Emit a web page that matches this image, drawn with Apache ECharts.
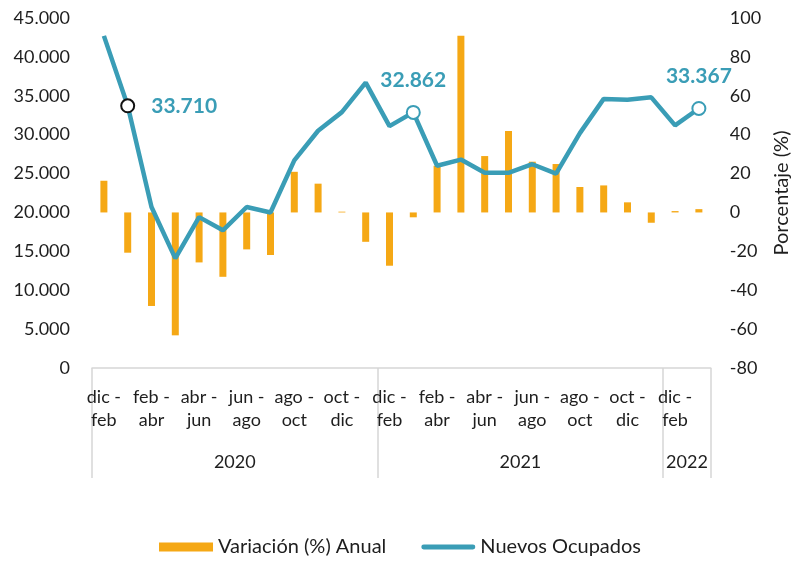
<!DOCTYPE html>
<html>
<head>
<meta charset="utf-8">
<script src="https://cdn.jsdelivr.net/npm/echarts@6/dist/echarts.min.js"></script>
<style>
  html, body { margin: 0; padding: 0; background: #fff; }
  #chart { width: 800px; height: 566px; }
</style>
</head>
<body>
<div id="chart"></div>
<script>
// periodos moviles (trimestres)
const periodos = [
  'dic - feb', 'ene - mar', 'feb - abr', 'mar - may', 'abr - jun', 'may - jul',
  'jun - ago', 'jul - sep', 'ago - oct', 'sep - nov', 'oct - dic', 'nov - ene',
  'dic - feb', 'ene - mar', 'feb - abr', 'mar - may', 'abr - jun', 'may - jul',
  'jun - ago', 'jul - sep', 'ago - oct', 'sep - nov', 'oct - dic', 'nov - ene',
  'dic - feb', 'ene - mar'
]
const anios = ['2020', '2021', '2022']
const aniosInicio = [0, 12, 24, 26]   // limites de cada año (indice de periodo)

const variacionAnual = [
  16.3, -20.7, -48.1, -63.2, -25.7, -33.1, -19.0, -21.9, 20.9, 14.8, 0.4, -15.1,
  -27.4, -2.5, 24.0, 90.9, 29.0, 41.9, 26.1, 24.9, 13.1, 13.9, 5.2, -5.3,
  0.7, 1.7
]
const nuevosOcupados = [
  42700, 33710, 20700, 14100, 19400, 17700, 20700, 20000, 26700, 30500, 32900, 36700,
  31100, 32862, 26000, 26800, 25100, 25100, 26200, 25000, 30200, 34600, 34500, 34800,
  31200, 33367
]
const destacados = [1, 13, 25]

const teal = '#3a9db6'
const naranja = '#f5a815'
const txt = '#1e1e1e'
const gris = '#d6d6d6'
const font = 'Lato'

function miles(v) {
  return String(Math.round(v)).replace(/\B(?=(\d{3})+(?!\d))/g, '.')
}

const lineaData = nuevosOcupados.map((v, i) => {
  if (destacados.indexOf(i) < 0) return v
  const primero = i === destacados[0]
  return {
    value: v,
    symbol: 'circle',
    symbolSize: 13,
    itemStyle: { color: '#fff', borderColor: primero ? '#111' : teal, borderWidth: 2 },
    label: {
      show: true,
      position: primero ? 'right' : 'top',
      distance: primero ? 16 : 14,
      formatter: p => miles(p.value),
      color: teal,
      fontWeight: 'bold',
      fontSize: 21,
      fontFamily: font
    }
  }
})

const chart = echarts.init(document.getElementById('chart'))
chart.setOption({
  animation: false,
  textStyle: { fontFamily: font },
  grid: { left: 92, right: 86, top: 18, bottom: 198 },
  legend: {
    bottom: 4,
    left: 'center',
    itemWidth: 54,
    itemHeight: 9,
    itemGap: 35,
    textStyle: { fontSize: 20, color: txt, fontFamily: font },
    data: [
      { name: 'Variación (%) Anual', icon: 'rect' },
      { name: 'Nuevos Ocupados', icon: 'path://M2.5,0 H53.5 A2.5,2.5 0 0 1 53.5,5 H2.5 A2.5,2.5 0 0 1 2.5,0 Z' }
    ]
  },
  xAxis: [{
    type: 'category',
    data: periodos,
    axisLine: { lineStyle: { color: gris, width: 1.5 } },
    axisTick: { show: false },
    axisLabel: {
      interval: 1,
      margin: 18,
      fontSize: 18,
      lineHeight: 23,
      color: txt,
      formatter: v => v.replace(' - ', ' -\n')
    }
  }, {
    type: 'value',
    min: 0,
    max: 26,
    position: 'bottom',
    axisLine: { show: false, onZero: false },
    splitLine: { show: false },
    axisTick: {
      show: true,
      inside: false,
      customValues: aniosInicio,
      length: 110,
      lineStyle: { color: gris, width: 1.5 }
    },
    axisLabel: {
      customValues: [6, 18, 25],
      margin: 85,
      fontSize: 18,
      color: txt,
      formatter: v => anios[v < 12 ? 0 : v < 24 ? 1 : 2]
    }
  }],
  yAxis: [{
    type: 'value',
    min: 0,
    max: 45000,
    interval: 5000,
    splitLine: { show: false },
    axisLine: { show: false },
    axisTick: { show: false },
    axisLabel: { margin: 22, fontSize: 18, color: txt, formatter: miles }
  }, {
    type: 'value',
    min: -80,
    max: 100,
    interval: 20,
    position: 'right',
    name: 'Porcentaje (%)',
    nameLocation: 'middle',
    nameRotate: 90,
    nameGap: 58,
    nameTextStyle: { fontSize: 20, color: txt, fontFamily: font },
    splitLine: { show: false },
    axisLine: { show: false },
    axisTick: { show: false },
    axisLabel: { margin: 19, fontSize: 18, color: txt }
  }],
  series: [{
    name: 'Variación (%) Anual',
    type: 'bar',
    xAxisIndex: 0,
    yAxisIndex: 1,
    barWidth: 7,
    itemStyle: { color: naranja },
    data: variacionAnual
  }, {
    name: 'Nuevos Ocupados',
    type: 'line',
    xAxisIndex: 0,
    yAxisIndex: 0,
    symbol: 'none',
    z: 3,
    lineStyle: { color: teal, width: 4.5 },
    itemStyle: { color: teal },
    data: lineaData
  }]
})
</script>
</body>
</html>
